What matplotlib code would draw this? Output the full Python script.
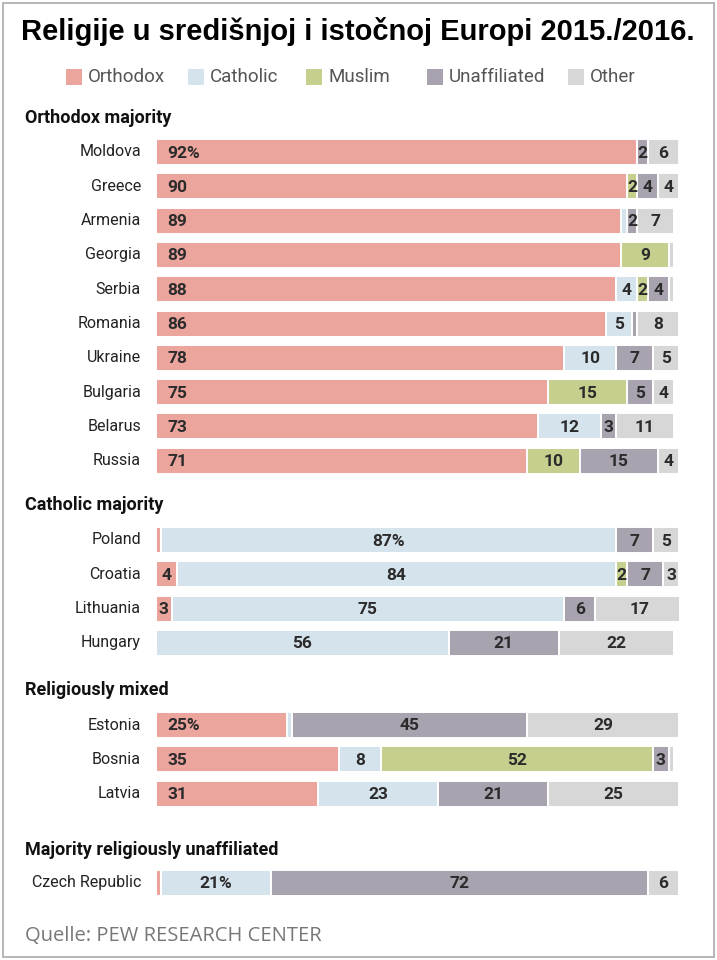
import matplotlib
matplotlib.use("Agg")
import matplotlib.pyplot as plt
from matplotlib.patches import Rectangle
from matplotlib import font_manager as fm

names = {f.name for f in fm.fontManager.ttflist}
NARROW = ['Liberation Sans Narrow', 'Roboto', 'DejaVu Sans']
NARROW = [n for n in NARROW if n in names] + ['DejaVu Sans']

categories = ["Orthodox", "Catholic", "Muslim", "Unaffiliated", "Other"]
colors = ["#EBA59D", "#D5E3EC", "#C6CF8E", "#A8A3AE", "#D7D7D7"]

groups = ["Orthodox majority", "Catholic majority", "Religiously mixed",
          "Majority religiously unaffiliated"]

countries = [
    ["Moldova", "Greece", "Armenia", "Georgia", "Serbia", "Romania",
     "Ukraine", "Bulgaria", "Belarus", "Russia"],
    ["Poland", "Croatia", "Lithuania", "Hungary"],
    ["Estonia", "Bosnia", "Latvia"],
    ["Czech Republic"],
]

orthodox = [[92, 90, 89, 89, 88, 86, 78, 75, 73, 71],
            [1, 4, 3, 0],
            [25, 35, 31],
            [1]]
catholic = [[0, 0, 1, 0, 4, 5, 10, 0, 12, 0],
            [87, 84, 75, 56],
            [1, 8, 23],
            [21]]
muslim = [[0, 2, 0, 9, 2, 0, 0, 15, 0, 10],
          [0, 2, 0, 0],
          [0, 52, 0],
          [0]]
unaffiliated = [[2, 4, 2, 0, 4, 1, 7, 5, 3, 15],
                [7, 7, 6, 21],
                [45, 3, 21],
                [72]]
other = [[6, 4, 7, 1, 1, 8, 5, 4, 11, 4],
         [5, 3, 17, 22],
         [29, 1, 25],
         [6]]

# layout (pixel coordinates, figure is 717 x 960)
W, H = 717, 960
bar_left_px, bar_width_px = 156, 523
header_y = [118, 505, 690, 850]
first_row_y = [152, 540, 725, 883]
row_step = 34.3
bar_h = 26

fig = plt.figure(figsize=(W / 100, H / 100), dpi=100)
fig.patch.set_facecolor("white")
ax = fig.add_axes([bar_left_px / W, 0, bar_width_px / W, 1])
ax.set_xlim(0, 100)
ax.set_ylim(H, 0)
ax.axis("off")

def fx(px):
    return px / W

def fy(py):
    return 1 - py / H

# border
fig.patches.append(Rectangle((fx(3), fy(957)), fx(711), 954 / H,
                             transform=fig.transFigure, fill=False,
                             edgecolor="#AAAAAA", linewidth=1.2))

# title
fig.text(fx(358), fy(31), "Religije u središnjoj i istočnoj Europi 2015./2016.",
         ha="center", va="center", fontsize=21, fontweight="bold",
         family=["Liberation Sans", "DejaVu Sans"], color="black")

# legend
leg_x = [66, 188, 306, 427, 568]
for cat, col, lx in zip(categories, colors, leg_x):
    fig.patches.append(Rectangle((fx(lx), fy(85)), fx(16), 16 / H,
                                 transform=fig.transFigure, facecolor=col,
                                 edgecolor="none"))
    fig.text(fx(lx + 22), fy(77), cat, ha="left", va="center", fontsize=13.5,
             family=NARROW, color="#555555")

series = [orthodox, catholic, muslim, unaffiliated, other]

for g in range(len(groups)):
    fig.text(fx(25), fy(header_y[g]), groups[g], ha="left", va="center",
             fontsize=13, fontweight="bold", family=NARROW, color="#111111")
    for i, name in enumerate(countries[g]):
        y = first_row_y[g] + i * row_step
        fig.text(fx(141), fy(y), name, ha="right", va="center", fontsize=11.5,
                 family=NARROW, color="#222222")
        left = 0
        for s, (ser, col) in enumerate(zip(series, colors)):
            v = ser[g][i]
            if v > 0:
                ax.barh(y, v, left=left, height=bar_h, color=col,
                        edgecolor="white", linewidth=1.4)
                if v >= 2:
                    txt = str(v)
                    if i == 0 and left == 0 or (i == 0 and s == 1 and g == 1) \
                            or (i == 0 and g == 3 and s == 1):
                        txt = txt + "%"
                    if s == 0 and v >= 10:
                        ax.text(left + 2.2, y + 1, txt, ha="left", va="center",
                                fontsize=12.5, fontweight="bold",
                                family=NARROW, color="#2b2b2b")
                    else:
                        ax.text(left + v / 2, y + 1, txt, ha="center",
                                va="center", fontsize=12.5, fontweight="bold",
                                family=NARROW, color="#2b2b2b")
            left += v

fig.text(fx(25), fy(936), "Quelle: PEW RESEARCH CENTER", ha="left",
         va="center", fontsize=14.5, family=["Open Sans", "DejaVu Sans"],
         color="#777777")

fig.savefig("out.png", dpi=100)
